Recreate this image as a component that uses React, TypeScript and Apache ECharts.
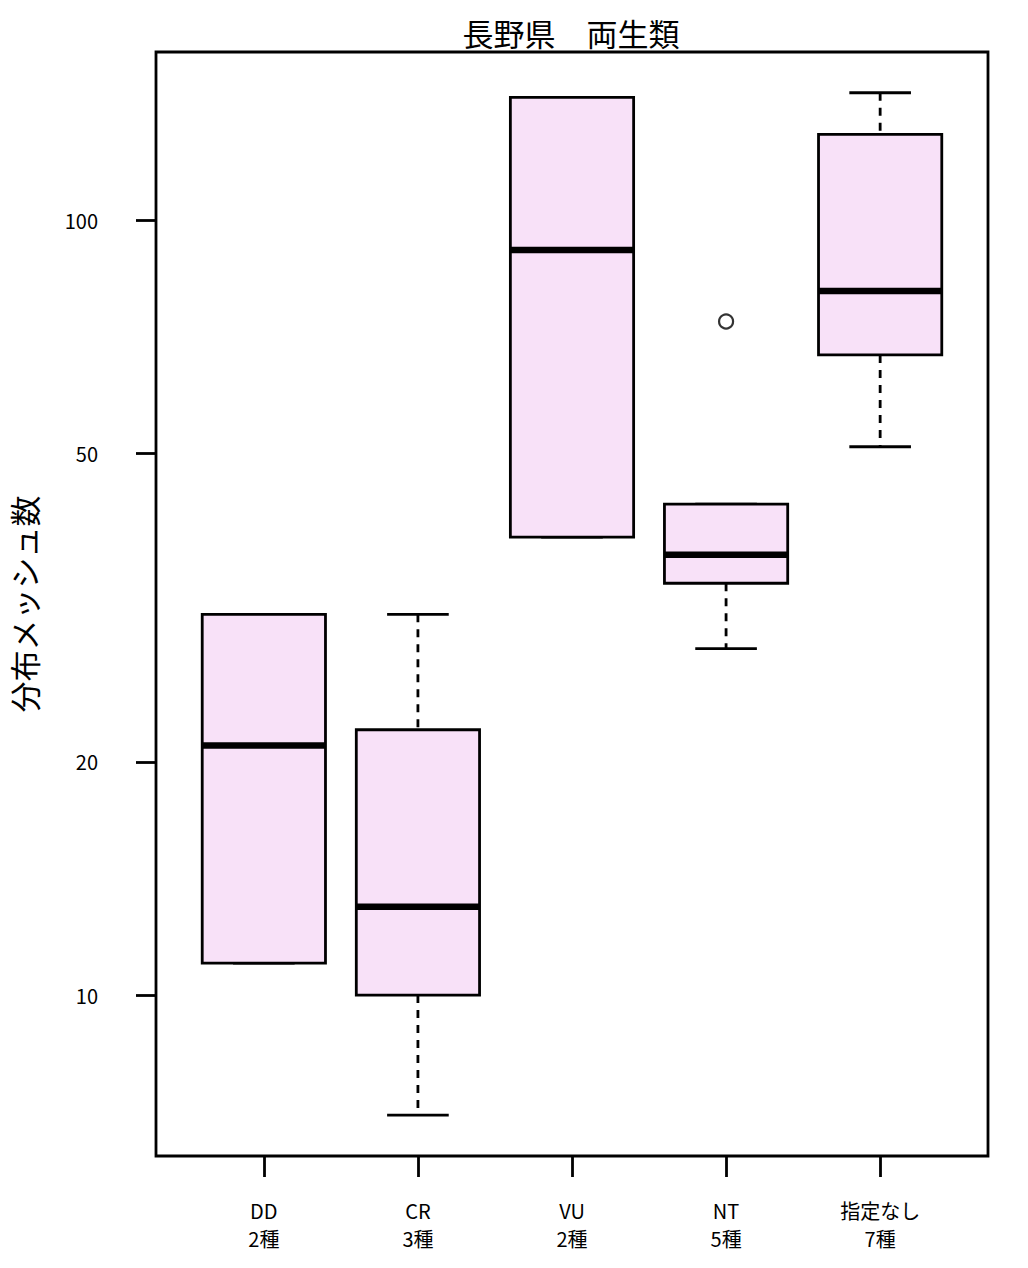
import React, { useEffect, useRef } from "react";
import * as echarts from "echarts";

const categories = ["DD", "CR", "VU", "NT", "指定なし"];
const speciesCounts = ["2種", "3種", "2種", "5種", "7種"];
// [min, q1, median, q3, max]
const boxStats: number[][] = [
  [11, 11, 21, 31, 31],
  [7, 10, 13, 22, 31],
  [39, 39, 91.5, 144, 144],
  [28, 34, 37, 43, 43],
  [51, 67, 81, 129, 146],
];
const outliers: number[][] = [[4, 74]];
const yTicks = [10, 20, 50, 100];
const title = "長野県　両生類";
const yTitle = "分布メッシュ数";

const FILL = "#F8E1F8";
const FONT = "'Liberation Sans Narrow', 'Noto Sans CJK JP', sans-serif";

export default function App() {
  const ref = useRef<HTMLDivElement>(null);
  useEffect(() => {
    if (!ref.current) return;
    const chart = echarts.init(ref.current, null, { renderer: "svg" });
    const data = boxStats.map((s, i) => [i + 1, ...s]);
    chart.setOption({
      animation: false,
      backgroundColor: "#fff",
      title: {
        text: title,
        left: 566,
        top: 12,
        textAlign: "center",
        textStyle: { fontFamily: FONT, fontSize: 31, fontWeight: "normal", color: "#000" },
      },
      grid: {
        left: 156,
        top: 52,
        width: 832,
        height: 1104,
        show: true,
        borderColor: "#000",
        borderWidth: 2.8,
        backgroundColor: "transparent",
        containLabel: false,
        outerBoundsMode: "none",
      },
      xAxis: {
        type: "value",
        min: 0.3,
        max: 5.7,
        splitLine: { show: false },
        axisLine: { show: false },
        axisTick: {
          show: true,
          length: 21,
          customValues: [1, 2, 3, 4, 5],
          lineStyle: { color: "#000", width: 2.8 },
        },
        axisLabel: {
          customValues: [1, 2, 3, 4, 5],
          margin: 40,
          fontFamily: FONT,
          fontSize: 20,
          lineHeight: 28,
          color: "#000",
          formatter: (v: number) => {
            const i = Math.round(v) - 1;
            return categories[i] + "\n" + speciesCounts[i];
          },
        },
      },
      yAxis: {
        type: "log",
        min: 6.2,
        max: 164.8,
        splitLine: { show: false },
        axisLine: { show: false },
        name: yTitle,
        nameLocation: "middle",
        nameGap: 117,
        nameTextStyle: { fontFamily: FONT, fontSize: 31, color: "#000" },
        axisTick: {
          show: true,
          length: 20,
          customValues: yTicks,
          lineStyle: { color: "#000", width: 2.8 },
        },
        axisLabel: {
          customValues: yTicks,
          margin: 58,
          fontFamily: FONT,
          fontSize: 20,
          color: "#000",
        },
      },
      series: [
        {
          type: "custom",
          data,
          renderItem: (params: any, api: any) => {
            const x = api.value(0);
            const mn = api.value(1);
            const q1 = api.value(2);
            const md = api.value(3);
            const q3 = api.value(4);
            const mx = api.value(5);
            const bl = api.coord([x - 0.4, q1]);
            const tr = api.coord([x + 0.4, q3]);
            const medL = api.coord([x - 0.4, md]);
            const medR = api.coord([x + 0.4, md]);
            const pMin = api.coord([x, mn]);
            const pMax = api.coord([x, mx]);
            const capL = api.coord([x - 0.2, mn]);
            const capR = api.coord([x + 0.2, mn]);
            const capL2 = api.coord([x - 0.2, mx]);
            const capR2 = api.coord([x + 0.2, mx]);
            const line = (x1: number, y1: number, x2: number, y2: number, w: number, dash?: number[]) => ({
              type: "line",
              shape: { x1, y1, x2, y2 },
              style: { stroke: "#000", lineWidth: w, lineDash: dash, lineCap: "butt" },
            });
            return {
              type: "group",
              children: [
                line(pMax[0], pMax[1], pMax[0], tr[1], 2.8, [8, 7]),
                line(pMin[0], bl[1], pMin[0], pMin[1], 2.8, [8, 7]),
                line(capL2[0], capL2[1], capR2[0], capR2[1], 2.8),
                line(capL[0], capL[1], capR[0], capR[1], 2.8),
                {
                  type: "rect",
                  shape: { x: bl[0], y: tr[1], width: tr[0] - bl[0], height: bl[1] - tr[1] },
                  style: { fill: FILL, stroke: "#000", lineWidth: 2.8 },
                },
                line(medL[0], medL[1], medR[0], medR[1], 6.5),
              ],
            };
          },
          z: 2,
        },
        {
          type: "scatter",
          data: outliers,
          symbol: "circle",
          symbolSize: 14,
          itemStyle: { color: "#fff", borderColor: "#000", borderWidth: 2.2 },
          z: 3,
        },
      ],
    });
    return () => chart.dispose();
  }, []);
  return (
    <div
      ref={ref}
      style={{ position: "absolute", left: 0, top: 0, width: 1028, height: 1268 }}
    />
  );
}
